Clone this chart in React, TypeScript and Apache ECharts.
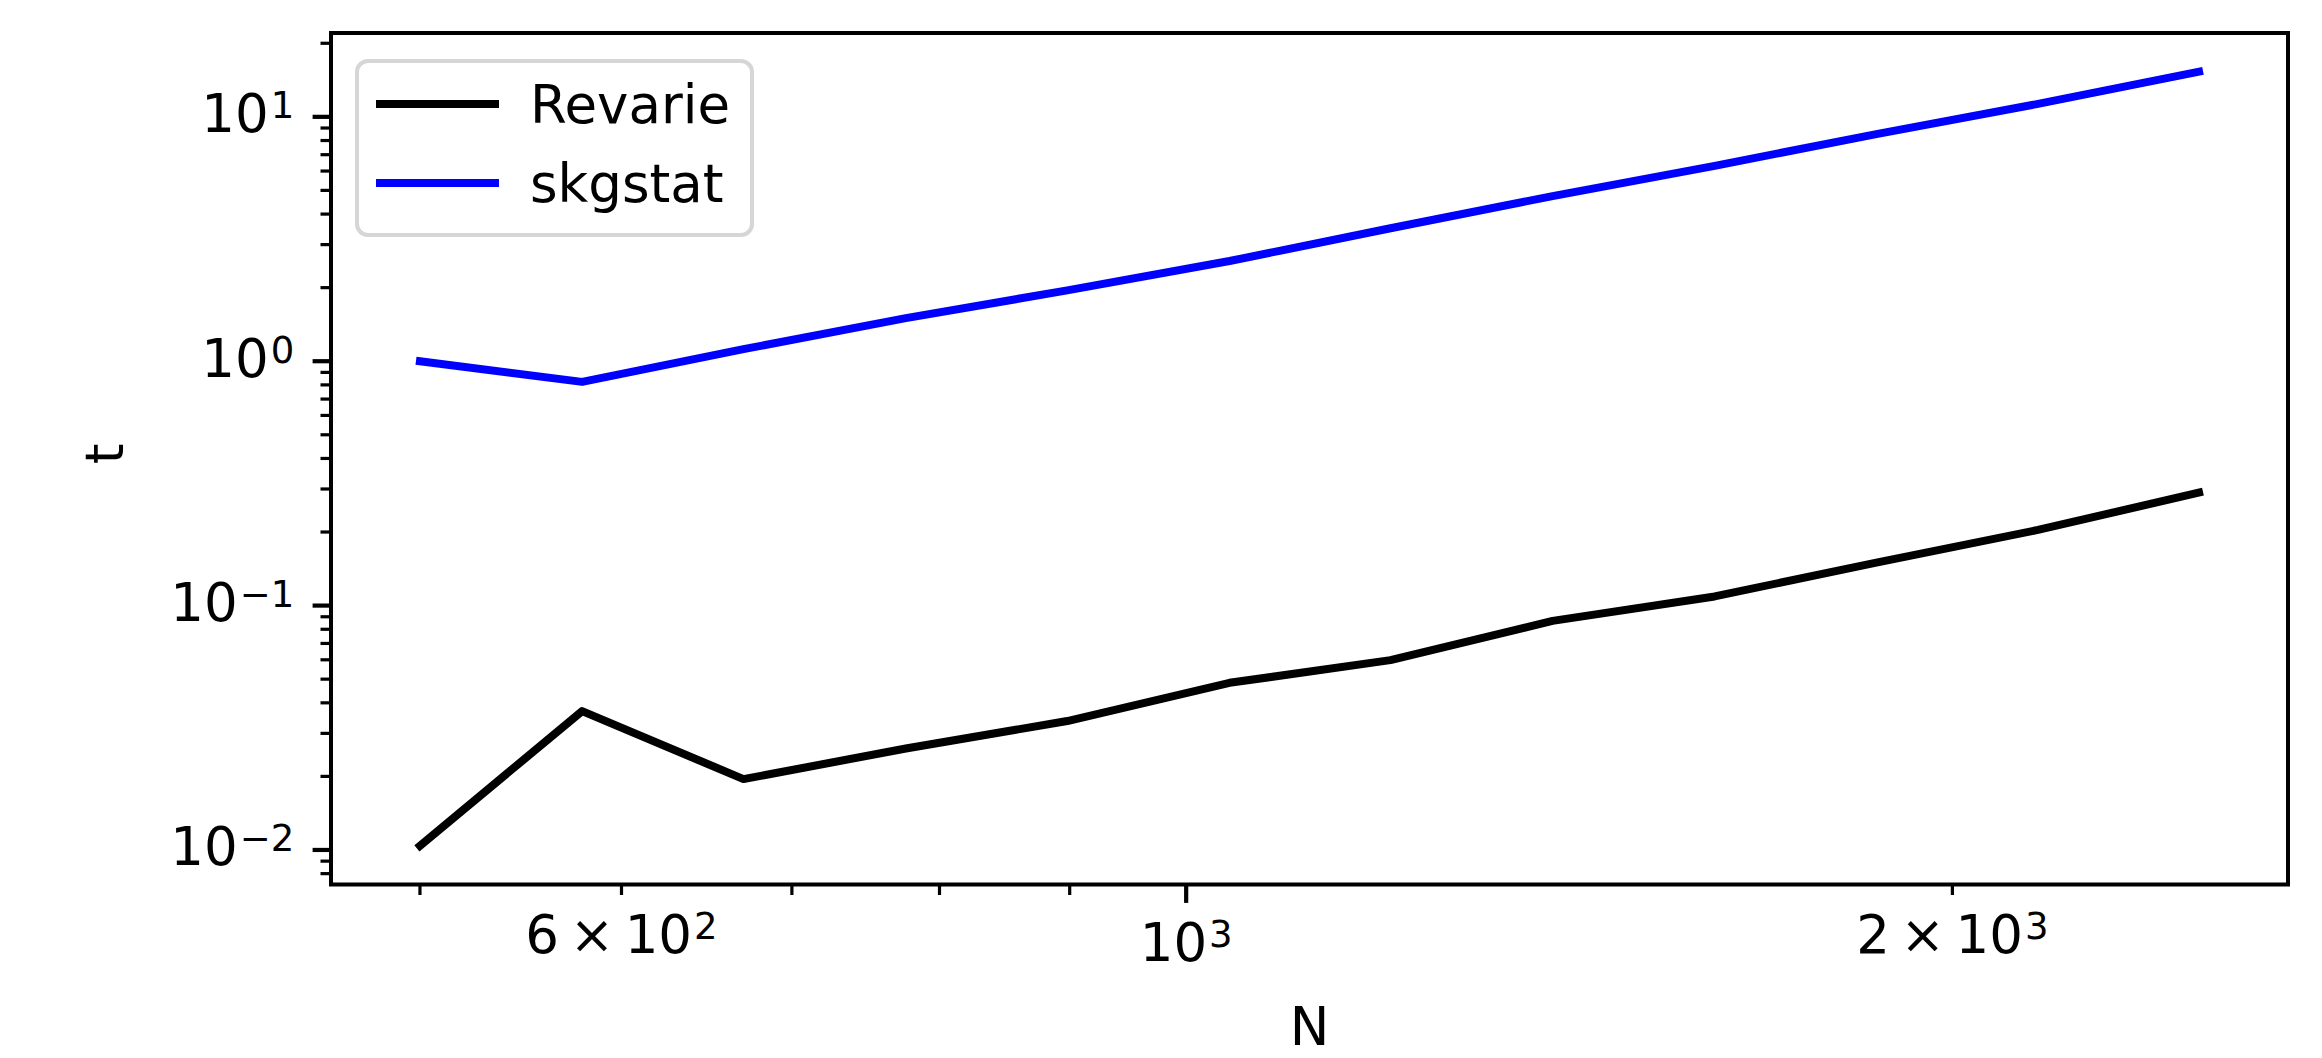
import React, { useEffect, useRef } from 'react';
import * as echarts from 'echarts';

// ---- data ----
const N = [500, 579, 670, 776, 898, 1040, 1203, 1393, 1613, 1867, 2161, 2500];
const revarie = [0.0104, 0.037, 0.0195, 0.026, 0.0337, 0.0483, 0.0598, 0.0866, 0.109, 0.15, 0.204, 0.29];
const skgstat = [1.0, 0.823, 1.12, 1.5, 1.95, 2.57, 3.5, 4.74, 6.3, 8.5, 11.3, 15.3];

const seriesNames = ['Revarie', 'skgstat'];
const seriesColors = ['#000000', '#0000ff'];

// x ticks (log axis)
const xTickValues = [500, 600, 700, 800, 900, 1000, 2000];
const xTickMajor = [false, false, false, false, false, true, false];
const xTickBase = ['', '6\u2009\u00d7\u200910', '', '', '', '10', '2\u2009\u00d7\u200910'];
const xTickExp = ['', '2', '', '', '', '3', '3'];

// y ticks (log axis)
const yMajorTicks = [0.01, 0.1, 1, 10];
const yTickBase = ['10', '10', '10', '10'];
const yTickExp = ['\u22122', '\u22121', '0', '1'];
const yMinorTicks = [
  0.008, 0.009,
  0.02, 0.03, 0.04, 0.05, 0.06, 0.07, 0.08, 0.09,
  0.2, 0.3, 0.4, 0.5, 0.6, 0.7, 0.8, 0.9,
  2, 3, 4, 5, 6, 7, 8, 9,
  20,
];

const FONT = 'DejaVu Sans';

// matplotlib-style 5% margins in log space
function logPad(lo: number, hi: number): [number, number] {
  const a = Math.log10(lo);
  const b = Math.log10(hi);
  const m = 0.05 * (b - a);
  return [Math.pow(10, a - m), Math.pow(10, b + m)];
}

export default function App() {
  const ref = useRef<HTMLDivElement>(null);

  useEffect(() => {
    if (!ref.current) return;
    const chart = echarts.init(ref.current, undefined, { renderer: 'svg' });

    const [xMin, xMax] = logPad(Math.min(...N), Math.max(...N));
    const allY = [...revarie, ...skgstat];
    const [yMin, yMax] = logPad(Math.min(...allY), Math.max(...allY));

    const rich = {
      b: { fontSize: 53, lineHeight: 53, fontFamily: FONT, fill: '#000', padding: [6, 0, 0, 0], verticalAlign: 'bottom' },
      s: { fontSize: 37, lineHeight: 37, fontFamily: FONT, fill: '#000', padding: [0, 0, 0, 2], verticalAlign: 'top' },
    };

    const MAJ_LEN = 18.4;
    const MIN_LEN = 10.5;
    const MAJ_W = 4.2;
    const MIN_W = 3.2;
    const PAD = 18.4;

    const yTickAll = [...yMajorTicks, ...yMinorTicks];

    const lineSeries = [revarie, skgstat].map((vals, k) => ({
      type: 'line',
      name: seriesNames[k],
      data: N.map((n, i) => [n, vals[i]]),
      symbol: 'none',
      showSymbol: false,
      z: 3,
      lineStyle: { color: seriesColors[k], width: 8, cap: 'square', join: 'round' },
      itemStyle: { color: seriesColors[k] },
      emphasis: { disabled: true },
    }));

    const option: any = {
      animation: false,
      backgroundColor: '#ffffff',
      grid: {
        left: 331,
        top: 33,
        width: 1957,
        height: 855,
        show: true,
        borderColor: '#000',
        borderWidth: 4,
        backgroundColor: 'transparent',
      },
      xAxis: {
        type: 'log',
        logBase: 10,
        min: xMin,
        max: xMax,
        axisLine: { show: false },
        axisTick: { show: false },
        axisLabel: { show: false },
        splitLine: { show: false },
        name: 'N',
        nameLocation: 'middle',
        nameGap: 142,
        nameTextStyle: { fontSize: 53, fontFamily: FONT, color: '#000', verticalAlign: 'middle' },
      },
      yAxis: {
        type: 'log',
        logBase: 10,
        min: yMin,
        max: yMax,
        axisLine: { show: false },
        axisTick: { show: false },
        axisLabel: { show: false },
        splitLine: { show: false },
        name: 't',
        nameLocation: 'middle',
        nameGap: 227,
        nameRotate: 90,
        nameTextStyle: {
          fontSize: 53,
          fontFamily: FONT,
          color: '#000',
          verticalAlign: 'middle',
          align: 'center',
          padding: [0, 0, 0, 10],
        },
      },
      legend: {
        data: seriesNames,
        orient: 'vertical',
        left: 357,
        top: 61,
        itemWidth: 115,
        itemHeight: 20,
        itemGap: 19,
        padding: [13, 22, 22, 19],
        backgroundColor: 'rgba(255,255,255,0.8)',
        borderColor: '#d6d6d6',
        borderWidth: 4,
        borderRadius: 11,
        selectedMode: false,
        lineStyle: { width: 8 },
        itemStyle: { opacity: 0, borderWidth: 0, color: 'transparent' },
        textStyle: { fontSize: 53, fontFamily: FONT, color: '#000', lineHeight: 60, padding: [0, 0, 0, 30] },
      },
      series: [
        ...lineSeries,
        {
          type: 'custom',
          name: 'xticks',
          silent: true,
          clip: false,
          z: 10,
          data: xTickValues.map((v) => [v, yMin]),
          renderItem: (params: any, api: any) => {
            const i = params.dataIndex;
            const p = api.coord([api.value(0), api.value(1)]);
            const major = xTickMajor[i];
            const len = major ? MAJ_LEN : MIN_LEN;
            const children: any[] = [
              {
                type: 'line',
                shape: { x1: p[0], y1: p[1], x2: p[0], y2: p[1] + len },
                style: { stroke: '#000', lineWidth: major ? MAJ_W : MIN_W },
              },
            ];
            if (xTickBase[i]) {
              children.push({
                type: 'text',
                x: p[0],
                y: p[1] + len + PAD - 5,
                style: {
                  text: `{b|${xTickBase[i]}}{s|${xTickExp[i]}}`,
                  align: 'center',
                  verticalAlign: 'top',
                  rich,
                },
              });
            }
            return { type: 'group', children };
          },
        },
        {
          type: 'custom',
          name: 'yticks',
          silent: true,
          clip: false,
          z: 10,
          data: yTickAll.map((v) => [xMin, v]),
          renderItem: (params: any, api: any) => {
            const i = params.dataIndex;
            const p = api.coord([api.value(0), api.value(1)]);
            const major = i < yMajorTicks.length;
            const len = major ? MAJ_LEN : MIN_LEN;
            const children: any[] = [
              {
                type: 'line',
                shape: { x1: p[0], y1: p[1], x2: p[0] - len, y2: p[1] },
                style: { stroke: '#000', lineWidth: major ? MAJ_W : MIN_W },
              },
            ];
            if (major) {
              children.push({
                type: 'text',
                x: p[0] - len - PAD,
                y: p[1] - 3,
                style: {
                  text: `{b|${yTickBase[i]}}{s|${yTickExp[i]}}`,
                  align: 'right',
                  verticalAlign: 'middle',
                  rich,
                },
              });
            }
            return { type: 'group', children };
          },
        },
      ],
    };

    chart.setOption(option);
    return () => {
      chart.dispose();
    };
  }, []);

  return (
    <div
      ref={ref}
      style={{ position: 'absolute', left: 0, top: 0, width: 2322, height: 1058, background: '#fff' }}
    />
  );
}
